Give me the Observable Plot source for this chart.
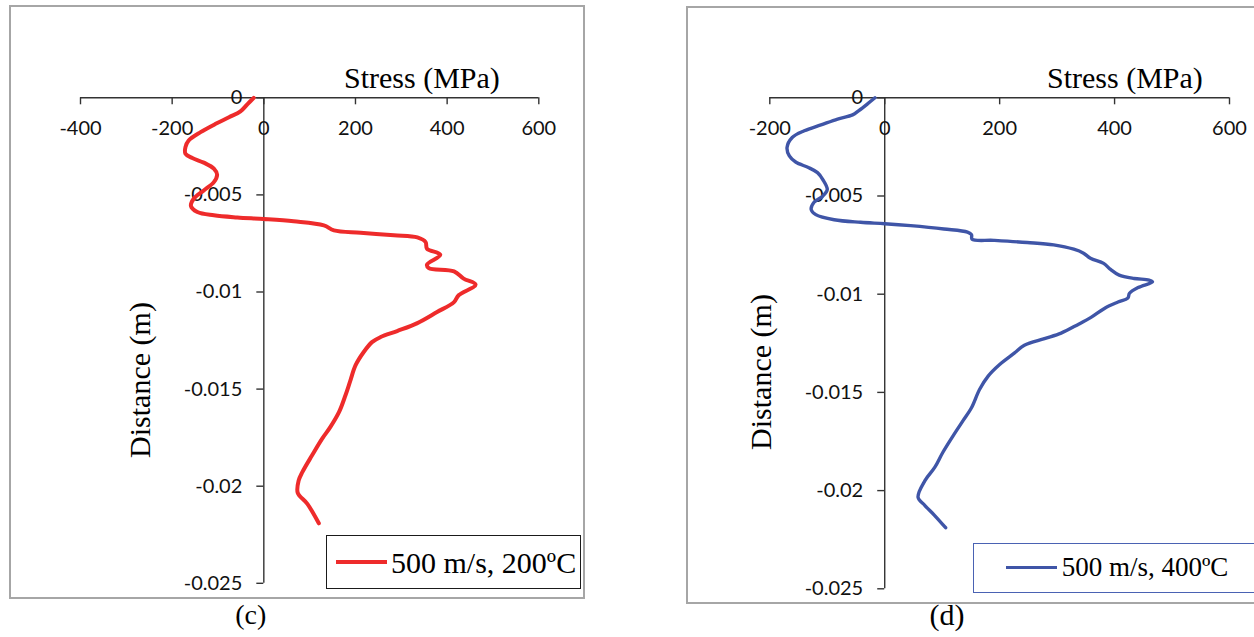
<!DOCTYPE html>
<html><head><meta charset="utf-8">
<script src="https://cdn.jsdelivr.net/npm/d3@7"></script>
<script src="https://cdn.jsdelivr.net/npm/@observablehq/plot@0.6"></script>
<style>
html,body{margin:0;padding:0;background:#fff;overflow:hidden}
#page{position:relative;width:1254px;height:637px;overflow:hidden;background:#fff}
.abs{position:absolute;white-space:nowrap}
.serif{font-family:"Liberation Serif","Times New Roman",serif;color:#000}
.frame{position:absolute;box-sizing:border-box;border:2px solid #a6a6a6}
.panel{position:absolute;top:0}
</style></head><body><div id="page"></div>
<script>
// ---- data: panel (c) 500 m/s, 200ºC ----
const stress200 = [-22,-35,-51,-76,-105,-138,-164,-171,-171,-156,-131,-109,-102,-109,-131,-153,-159,-145,-109,-58,0,65,131,153,211,284,335,353,356,385,356,360,415,436,462,425,415,378,335,291,255,236,218,200,189,178,164,145,127,105,84,76,74,95,120];
const depth200 = [0,-0.00031,-0.0007,-0.001,-0.00134,-0.00177,-0.0022,-0.00254,-0.00288,-0.0031,-0.00334,-0.00365,-0.00396,-0.00434,-0.00477,-0.0052,-0.00557,-0.00588,-0.00605,-0.00616,-0.00624,-0.00636,-0.00657,-0.00683,-0.00695,-0.00708,-0.00719,-0.00743,-0.00777,-0.00808,-0.00859,-0.00877,-0.00894,-0.00931,-0.00962,-0.01017,-0.01052,-0.01103,-0.0116,-0.01201,-0.01232,-0.01258,-0.01309,-0.01378,-0.01455,-0.01533,-0.01619,-0.01696,-0.01756,-0.01842,-0.01928,-0.01971,-0.02034,-0.02091,-0.02191];
// ---- data: panel (d) 500 m/s, 400ºC ----
const stress400 = [-17,-30,-45,-56,-82,-111,-140,-161,-170,-166,-155,-132,-117,-108,-100,-108,-123,-128,-120,-88,-42,0,45,103,144,151,152,190,248,294,329,346,358,381,393,408,434,460,466,441,426,423,406,383,359,336,307,278,243,226,200,180,165,151,136,119,101,87,70,58,70,87,106];
const depth400 = [0,-0.00031,-0.00065,-0.00087,-0.00108,-0.00138,-0.00168,-0.00202,-0.00253,-0.00296,-0.00327,-0.00356,-0.00381,-0.00415,-0.00467,-0.00501,-0.00532,-0.00569,-0.00595,-0.00621,-0.00634,-0.00641,-0.00651,-0.00668,-0.00684,-0.00697,-0.0072,-0.00726,-0.00737,-0.00749,-0.00771,-0.00791,-0.00817,-0.00843,-0.00874,-0.00903,-0.0092,-0.00928,-0.00937,-0.00966,-0.00995,-0.0102,-0.0104,-0.01071,-0.01118,-0.01155,-0.01198,-0.01226,-0.0126,-0.01299,-0.01358,-0.01417,-0.01485,-0.01578,-0.01645,-0.01721,-0.01806,-0.01882,-0.01949,-0.02034,-0.02076,-0.02127,-0.02189];
// ---- ticks & text ----
const xTicks200 = [-400,-200,0,200,400,600];
const xTicks400 = [-200,0,200,400,600];
const yTicks = [0,-0.005,-0.01,-0.015,-0.02,-0.025];
const xTitle = "Stress (MPa)";
const yTitle = "Distance (m)";
const legend200 = "500 m/s, 200ºC";
const legend400 = "500 m/s, 400ºC";
const caption200 = "(c)";
const caption400 = "(d)";

const page = document.getElementById("page");
function el(html, style, cls) {
  const d = document.createElement("div");
  d.className = cls || "abs";
  d.textContent = html;
  Object.assign(d.style, style);
  page.appendChild(d);
  return d;
}

function panel({stress, depth, xTicks, color, lineWidth, width, margins}) {
  const pts = stress.map((s, i) => ({stress: s, depth: depth[i]}));
  const axisColor = "#333";
  return Plot.plot({
    width, height: 637,
    marginLeft: margins[0], marginRight: margins[1], marginTop: margins[2], marginBottom: margins[3],
    style: {background: "transparent", overflow: "visible"},
    x: {domain: d3.extent(xTicks), axis: null},
    y: {domain: d3.extent(yTicks), axis: null},
    marks: [
      Plot.ruleY([0], {x1: d3.min(xTicks), x2: d3.max(xTicks), stroke: axisColor, strokeWidth: 1.4}),
      Plot.ruleX([0], {y1: d3.min(yTicks), y2: d3.max(yTicks), stroke: axisColor, strokeWidth: 1.4}),
      Plot.ruleX(xTicks, {x: d => d, y1: 0, y2: 0, insetBottom: -7, stroke: axisColor, strokeWidth: 1.4}),
      Plot.ruleY(yTicks, {y: d => d, x1: 0, x2: 0, insetLeft: -7, stroke: axisColor, strokeWidth: 1.4}),
      Plot.text(xTicks, {x: d => d, y: 0, text: d => String(d), dy: 30.5, fontSize: 20, fontFamily: "Lato", fill: "#111"}),
      Plot.text(yTicks, {x: 0, y: d => d, text: d => String(d), textAnchor: "end", dx: -21.5, fontSize: 20, fontFamily: "Lato", fill: "#111"}),
      Plot.line(pts, {x: "stress", y: "depth", stroke: color, strokeWidth: lineWidth, curve: "catmull-rom", strokeLinejoin: "round", strokeLinecap: "round"})
    ]
  });
}

// frames
el("", {left: "9px", top: "5px", width: "576px", height: "594px"}, "frame");
el("", {left: "686px", top: "6px", width: "620px", height: "598px"}, "frame");

// plots
const p1 = panel({stress: stress200, depth: depth200, xTicks: xTicks200, color: "#ee2b2b", lineWidth: 4,
  width: 600, margins: [80, 61.7, 97.3, 54.2]});
const w1 = document.createElement("div"); w1.className = "panel"; w1.style.left = "0px"; w1.appendChild(p1); page.appendChild(w1);
const p2 = panel({stress: stress400, depth: depth400, xTicks: xTicks400, color: "#3f55a7", lineWidth: 3.4,
  width: 574, margins: [89.3, 25, 97.3, 48.7]});
const w2 = document.createElement("div"); w2.className = "panel"; w2.style.left = "680px"; w2.appendChild(p2); page.appendChild(w2);

// axis titles
const t = {fontSize: "30px", lineHeight: "30px"};
el(xTitle, Object.assign({left: "344px", top: "63px"}, t), "abs serif");
el(xTitle, Object.assign({left: "1047px", top: "63px"}, t), "abs serif");
el(yTitle, Object.assign({left: "40px", top: "365px", width: "200px", height: "30px", textAlign: "center", transform: "rotate(-90deg)"}, t), "abs serif");
el(yTitle, Object.assign({left: "661px", top: "356.5px", width: "200px", height: "30px", textAlign: "center", transform: "rotate(-90deg)"}, t), "abs serif");

// legends
el("", {left: "325.5px", top: "535px", width: "255px", height: "54px", boxSizing: "border-box", border: "1.5px solid #1a1a1a", background: "#fff"});
el("", {left: "336px", top: "560px", width: "51px", height: "4px", background: "#ee2b2b"});
el(legend200, {left: "391px", top: "548.2px", fontSize: "30px", lineHeight: "30px"}, "abs serif");
el("", {left: "973px", top: "542.5px", width: "300px", height: "50.5px", boxSizing: "border-box", border: "1.5px solid #4a62b3", background: "#fff"});
el("", {left: "1006px", top: "565.6px", width: "51px", height: "3.4px", background: "#3f55a7"});
el(legend400, {left: "1061.7px", top: "554.1px", fontSize: "27px", lineHeight: "27px"}, "abs serif");

// captions
el(caption200, {left: "200.7px", top: "601px", width: "100px", textAlign: "center", fontSize: "28px", lineHeight: "28px"}, "abs serif");
el(caption400, {left: "897px", top: "600.2px", width: "100px", textAlign: "center", fontSize: "30px", lineHeight: "30px"}, "abs serif");
</script></body></html>
